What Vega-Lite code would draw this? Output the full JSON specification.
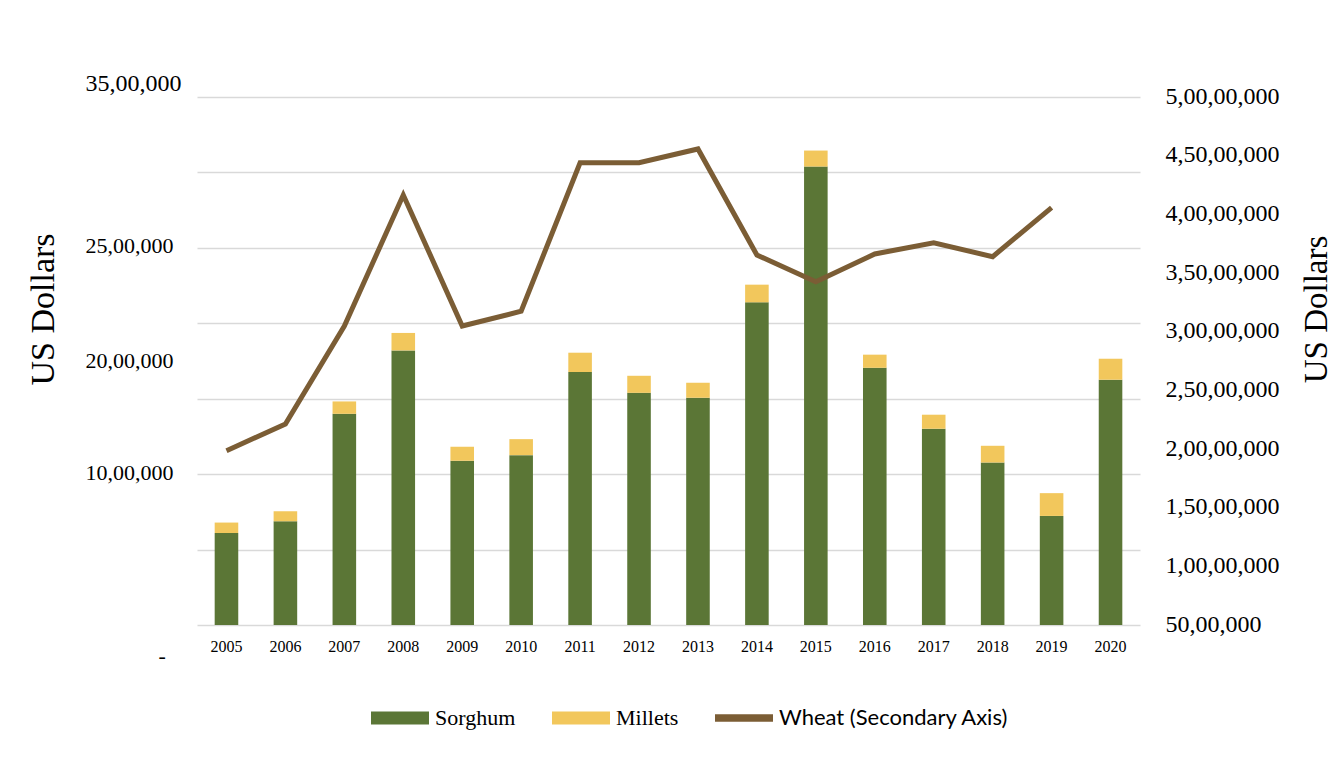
{
  "$schema": "https://vega.github.io/schema/vega-lite/v6.json",
  "width": 943,
  "height": 528,
  "autosize": {"type": "none"},
  "padding": {"left": 197, "top": 97, "right": 193, "bottom": 133},
  "background": "white",
  "data": {
    "values": [
      {"year": "2005", "series": "Sorghum", "value": 610000},
      {"year": "2006", "series": "Sorghum", "value": 688000},
      {"year": "2007", "series": "Sorghum", "value": 1400000},
      {"year": "2008", "series": "Sorghum", "value": 1820000},
      {"year": "2009", "series": "Sorghum", "value": 1088000},
      {"year": "2010", "series": "Sorghum", "value": 1126000},
      {"year": "2011", "series": "Sorghum", "value": 1677000},
      {"year": "2012", "series": "Sorghum", "value": 1539000},
      {"year": "2013", "series": "Sorghum", "value": 1506000},
      {"year": "2014", "series": "Sorghum", "value": 2139000},
      {"year": "2015", "series": "Sorghum", "value": 3039000},
      {"year": "2016", "series": "Sorghum", "value": 1705000},
      {"year": "2017", "series": "Sorghum", "value": 1301000},
      {"year": "2018", "series": "Sorghum", "value": 1077000},
      {"year": "2019", "series": "Sorghum", "value": 723000},
      {"year": "2020", "series": "Sorghum", "value": 1626000},
      {"year": "2005", "series": "Millets", "value": 69000},
      {"year": "2006", "series": "Millets", "value": 66000},
      {"year": "2007", "series": "Millets", "value": 82000},
      {"year": "2008", "series": "Millets", "value": 116000},
      {"year": "2009", "series": "Millets", "value": 93000},
      {"year": "2010", "series": "Millets", "value": 106000},
      {"year": "2011", "series": "Millets", "value": 128000},
      {"year": "2012", "series": "Millets", "value": 113000},
      {"year": "2013", "series": "Millets", "value": 100000},
      {"year": "2014", "series": "Millets", "value": 117000},
      {"year": "2015", "series": "Millets", "value": 106000},
      {"year": "2016", "series": "Millets", "value": 87000},
      {"year": "2017", "series": "Millets", "value": 93000},
      {"year": "2018", "series": "Millets", "value": 111000},
      {"year": "2019", "series": "Millets", "value": 151000},
      {"year": "2020", "series": "Millets", "value": 139000},
      {"year": "2005", "series": "Wheat (Secondary Axis)", "value": 19850000},
      {"year": "2006", "series": "Wheat (Secondary Axis)", "value": 22130000},
      {"year": "2007", "series": "Wheat (Secondary Axis)", "value": 30480000},
      {"year": "2008", "series": "Wheat (Secondary Axis)", "value": 41650000},
      {"year": "2009", "series": "Wheat (Secondary Axis)", "value": 30480000},
      {"year": "2010", "series": "Wheat (Secondary Axis)", "value": 31740000},
      {"year": "2011", "series": "Wheat (Secondary Axis)", "value": 44400000},
      {"year": "2012", "series": "Wheat (Secondary Axis)", "value": 44400000},
      {"year": "2013", "series": "Wheat (Secondary Axis)", "value": 45570000},
      {"year": "2014", "series": "Wheat (Secondary Axis)", "value": 36530000},
      {"year": "2015", "series": "Wheat (Secondary Axis)", "value": 34260000},
      {"year": "2016", "series": "Wheat (Secondary Axis)", "value": 36620000},
      {"year": "2017", "series": "Wheat (Secondary Axis)", "value": 37580000},
      {"year": "2018", "series": "Wheat (Secondary Axis)", "value": 36390000},
      {"year": "2019", "series": "Wheat (Secondary Axis)", "value": 40570000}
    ]
  },
  "encoding": {
    "x": {
      "field": "year",
      "type": "ordinal",
      "scale": {"paddingInner": 0.6, "paddingOuter": 0.3},
      "axis": {
        "title": null,
        "labelAngle": 0,
        "domain": false,
        "ticks": false,
        "tickSize": 0,
        "labelPadding": 13,
        "labelFont": "Liberation Serif",
        "labelFontSize": 16,
        "labelColor": "#000000"
      }
    }
  },
  "layer": [
    {
      "transform": [{"filter": "datum.series !== 'Wheat (Secondary Axis)'"}],
      "mark": {"type": "bar"},
      "encoding": {
        "y": {
          "field": "value",
          "type": "quantitative",
          "stack": "zero",
          "scale": {"domain": [0, 3500000], "nice": false, "zero": true},
          "axis": {
            "orient": "left",
            "values": [0, 500000, 1000000, 1500000, 2000000, 2500000, 3000000, 3500000],
            "labelExpr": "datum.value == 0 ? '-' : datum.value == 1000000 ? '10,00,000' : datum.value == 2000000 ? '20,00,000' : datum.value == 2500000 ? '25,00,000' : datum.value == 3500000 ? '35,00,000' : ''",
            "grid": true,
            "gridColor": "#d9d9d9",
            "gridWidth": 1.3,
            "domain": false,
            "ticks": false,
            "tickSize": 0,
            "labelFont": "Liberation Serif",
            "labelColor": "#000000",
            "labelAlign": "left",
            "labelBaseline": "middle",
            "labelFontSize": {"condition": {"test": "datum.value == 3500000", "value": 24}, "value": 22},
            "labelPadding": {"condition": {"test": "datum.value == 0", "value": 39}, "value": 112},
            "labelOffset": {"condition": [
              {"test": "datum.value == 3500000", "value": -14},
              {"test": "datum.value == 2000000", "value": 37},
              {"test": "datum.value == 0", "value": 30}
            ], "value": -2},
            "title": "US Dollars",
            "titleFont": "Liberation Serif",
            "titleFontSize": 34,
            "titleFontWeight": "normal",
            "titleColor": "#000000",
            "titleAngle": -90,
            "titleAlign": "center",
            "titleBaseline": "alphabetic",
            "titleX": -144,
            "titleY": 212
          }
        },
        "color": {
          "field": "series",
          "type": "nominal",
          "scale": {
            "domain": ["Sorghum", "Millets", "Wheat (Secondary Axis)"],
            "range": ["#5b7636", "#f2c75c", "#7b5d35"]
          },
          "legend": {
            "title": null,
            "orient": "none",
            "direction": "horizontal",
            "legendX": 174,
            "legendY": 592,
            "symbolType": {"expr": "datum.value === 'Wheat (Secondary Axis)' ? 'M-1,-0.13H1V0.13H-1Z' : 'M-1,-0.224H1V0.224H-1Z'"},
            "symbolSize": 3364,
            "symbolStrokeWidth": 0,
            "symbolOpacity": 1,
            "labelFont": {"expr": "datum.value === 'Wheat (Secondary Axis)' ? 'Lato' : 'Liberation Serif'"},
            "labelFontSize": 22,
            "labelColor": "#000000",
            "labelOffset": 6,
            "labelLimit": 400,
            "columnPadding": 36
          }
        },
        "order": {"field": "series", "sort": "descending"}
      }
    },
    {
      "transform": [{"filter": "datum.series === 'Wheat (Secondary Axis)'"}],
      "mark": {"type": "line", "strokeWidth": 5, "strokeJoin": "miter", "strokeCap": "butt"},
      "encoding": {
        "y": {
          "field": "value",
          "type": "quantitative",
          "scale": {"domain": [5000000, 50000000], "nice": false, "zero": false},
          "axis": {
            "orient": "right",
            "values": [5000000, 10000000, 15000000, 20000000, 25000000, 30000000, 35000000, 40000000, 45000000, 50000000],
            "labelExpr": "datum.value >= 10000000 ? floor(datum.value/10000000) + ',' + (floor((datum.value % 10000000)/100000) < 10 ? '0' : '') + floor((datum.value % 10000000)/100000) + ',00,000' : floor(datum.value/100000) + ',00,000'",
            "grid": false,
            "domain": false,
            "ticks": false,
            "tickSize": 0,
            "labelFont": "Liberation Serif",
            "labelFontSize": 24,
            "labelColor": "#000000",
            "labelAlign": "left",
            "labelBaseline": "middle",
            "labelPadding": 25,
            "labelOffset": -1,
            "title": "US Dollars",
            "titleFont": "Liberation Serif",
            "titleFontSize": 33,
            "titleFontWeight": "normal",
            "titleColor": "#000000",
            "titleAngle": -90,
            "titleAlign": "center",
            "titleBaseline": "alphabetic",
            "titleX": 186,
            "titleY": 212
          }
        },
        "color": {
          "field": "series",
          "type": "nominal"
        }
      }
    }
  ],
  "resolve": {"scale": {"y": "independent"}},
  "config": {
    "view": {"stroke": null},
    "font": "Liberation Serif"
  }
}
